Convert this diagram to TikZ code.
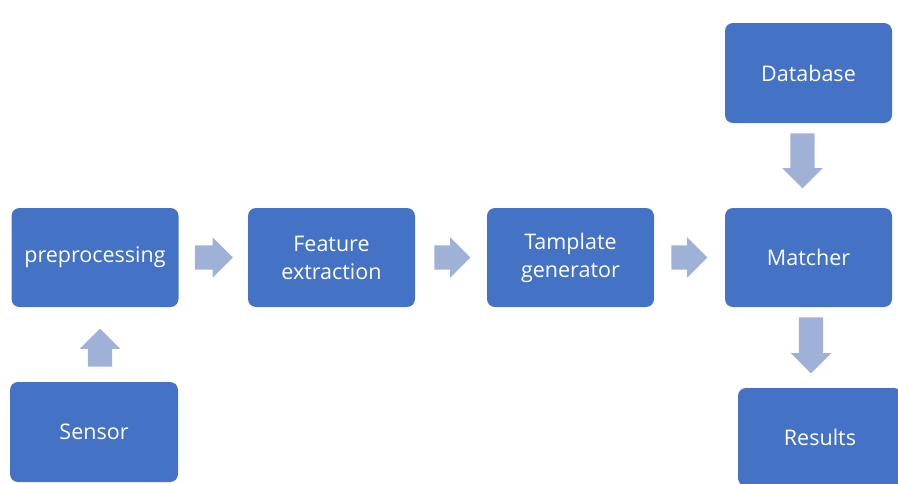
\documentclass[tikz,border=0pt]{standalone}
\usepackage{fontspec}
\setmainfont{Open Sans}
\usetikzlibrary{shapes.arrows,calc}
\definecolor{boxblue}{RGB}{68,114,196}
\definecolor{arrowblue}{RGB}{160,177,216}
\tikzset{
    blue-box/.style = {fill=boxblue, text=white, rectangle, rounded corners=8pt, minimum width=167pt, minimum height=99pt, align=center, font=\fontsize{21.5}{28}\selectfont},
    block-arrow/.style = {fill=arrowblue, single arrow, single arrow head extend=8pt, inner xsep=0pt, inner ysep=12pt, minimum height=#1, anchor=tail},
    block-arrow/.default = 36pt,
}

\begin{document}
\begin{tikzpicture}[x=1pt, y=-1pt]
\clip (0,0) rectangle (898,483);
\node [blue-box] (pre) at (95,257.5) {preprocessing};
\node [blue-box] (feat) at (331.5,257.5) {Feature\\extraction};
\node [blue-box] (tmpl) at (570.5,257.5) {Tamplate\\generator};
\node [blue-box] (match) at (808.5,257.5) {Matcher};
\node [blue-box, minimum height=100pt] (db) at (808.5,73) {Database};
\node [blue-box, minimum width=168pt, minimum height=100pt] (sensor) at (94,432) {Sensor};
\node [blue-box, minimum width=164pt, minimum height=98pt] (res) at (820,437) {Results};
% arrows between the boxes
\node [block-arrow=38pt] (a1) at ($(pre.east)+(16,0)$) {};
\node [block-arrow] (a2) at ($(feat.east)+(19,0)$) {};
\node [block-arrow] (a3) at ($(tmpl.east)+(17,0)$) {};
\node [block-arrow=55pt, rotate=-90] (a4) at ($(db.south)+(-6,10)$) {};
\node [block-arrow=56pt, rotate=-90] (a5) at ($(match.south)+(2.5,10)$) {};
\node [block-arrow=38pt, rotate=90] (a6) at ($(sensor.north)+(6,-15)$) {};
\end{tikzpicture}
\end{document}
